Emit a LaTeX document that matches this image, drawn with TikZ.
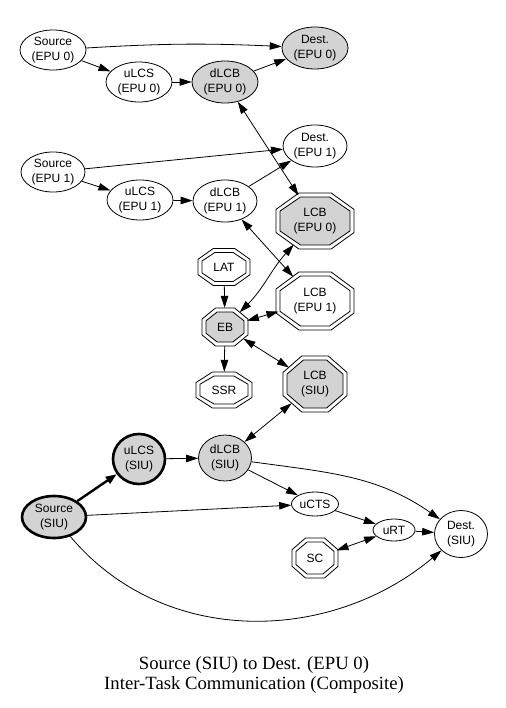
\documentclass[tikz,border=0pt]{standalone}
\usepackage{fontspec}
\setmainfont{Liberation Sans}
\newfontfamily\capfont{Liberation Serif}
\usetikzlibrary{shapes.geometric,arrows.meta}
\definecolor{gfill}{RGB}{211,211,211}
\newcommand\nodefont{\fontsize{12}{14.5}\selectfont}
\newcommand\drawoct[5]{\draw[#1] ({#2+#4},{#3+0.414*#5}) -- ({#2+0.414*#4},{#3+#5}) -- ({#2-0.414*#4},{#3+#5}) -- ({#2-#4},{#3+0.414*#5}) -- ({#2-#4},{#3-0.414*#5}) -- ({#2-0.414*#4},{#3-#5}) -- ({#2+0.414*#4},{#3-#5}) -- ({#2+#4},{#3-0.414*#5}) -- cycle;}
\newcommand\myocto[7]{%
  \pgfmathsetmacro\myoA{#4/2}\pgfmathsetmacro\myoB{#5/2}%
  \pgfmathsetmacro\myiA{#4/2-4}\pgfmathsetmacro\myiB{#5/2-4}%
  \drawoct{fill=white,lnk}{#2}{#3}{\myoA}{\myoB}%
  \drawoct{fill=#6,lnk}{#2}{#3}{\myiA}{\myiB}%
  \node[ellipse,minimum width=#4,minimum height=#5,inner sep=0,font=\nodefont,align=center] (#1) at (#2,#3) {#7};}
\tikzset{
  lnk/.style={line width=0.8pt},
  el/.style={ellipse,draw,line width=0.8pt,inner sep=0pt,align=center,font=\nodefont},
  gel/.style={el,fill=gfill},
  thk/.style={line width=2.6pt},
  arr/.style={lnk,-{Triangle[length=12pt,width=7.5pt]}},
  barr/.style={lnk,{Triangle[length=12pt,width=7.5pt]}-{Triangle[length=12pt,width=7.5pt]}},
}
\begin{document}
\begin{tikzpicture}[x=1pt,y=1pt]
\useasboundingbox (0,0) rectangle (505,-708);
\fill[white] (0,0) rectangle (505,-708);
% ellipse nodes
\node[el, minimum width=66, minimum height=40] (SrcE0) at (53,-50) {Source\\(EPU 0)};
\node[el, minimum width=66, minimum height=40] (uLCSE0) at (139,-82) {uLCS\\(EPU 0)};
\node[gel, minimum width=66, minimum height=42] (dLCBE0) at (225,-82) {dLCB\\(EPU 0)};
\node[gel, minimum width=66, minimum height=42] (DestE0) at (315,-48) {Dest.\\(EPU 0)};
\node[el, minimum width=64, minimum height=40] (SrcE1) at (53,-172) {Source\\(EPU 1)};
\node[el, minimum width=66, minimum height=40] (uLCSE1) at (140,-200) {uLCS\\(EPU 1)};
\node[el, minimum width=64, minimum height=42] (dLCBE1) at (225,-201) {dLCB\\(EPU 1)};
\node[el, minimum width=64, minimum height=42] (DestE1) at (315,-146) {Dest.\\(EPU 1)};
% octagon nodes
\myocto{LCBE0}{315}{-221}{78}{56}{gfill}{LCB\\(EPU 0)}
\myocto{LAT}{224}{-267}{52}{37}{white}{LAT}
\myocto{LCBE1}{315}{-301}{78}{58}{white}{LCB\\(EPU 1)}
\myocto{EB}{225}{-327}{46}{38}{gfill}{EB}
\myocto{SSR}{224}{-390}{56}{36}{white}{SSR}
\myocto{LCBSIU}{315}{-384}{64}{56}{gfill}{LCB\\(SIU)}
\myocto{SC}{315}{-558}{46}{40}{white}{SC}
% SIU nodes
\node[gel, thk, minimum width=52, minimum height=50] (uLCSSIU) at (139,-459) {uLCS\\(SIU)};
\node[gel, minimum width=53, minimum height=46] (dLCBSIU) at (225,-458) {dLCB\\(SIU)};
\node[gel, thk, minimum width=64, minimum height=42] (SrcSIU) at (54,-517) {Source\\(SIU)};
\node[el, minimum width=47, minimum height=24] (uCTS) at (315,-504) {uCTS};
\node[el, minimum width=42, minimum height=22] (uRT) at (394,-530) {uRT};
\node[el, minimum width=53, minimum height=47] (DestSIU) at (461,-534) {Dest.\\(SIU)};
% caption
\node[font=\capfont\fontsize{18.7}{20.5}\selectfont, align=center] (cap) at (254,-675) {Source (SIU) to Dest. (EPU 0)\\Inter-Task Communication (Composite)};
% edges EPU 0
\draw[arr] (SrcE0) to[bend left=3] (DestE0);
\draw[arr] (SrcE0) -- (uLCSE0);
\draw[arr] (uLCSE0) -- (dLCBE0);
\draw[arr] (dLCBE0) -- (DestE0);
\draw[barr] (dLCBE0) -- (LCBE0);
% edges EPU 1
\draw[arr] (SrcE1) -- (DestE1);
\draw[arr] (SrcE1) -- (uLCSE1);
\draw[arr] (uLCSE1) -- (dLCBE1);
\draw[arr] (dLCBE1) -- (DestE1);
\draw[barr] (dLCBE1) -- (LCBE1);
% EB
\draw[arr] (LAT) -- (EB);
\draw[barr] (EB) to[out=45,in=228] (LCBE0);
\draw[barr] (EB) -- (LCBE1);
\draw[arr] (EB) -- (SSR);
\draw[barr] (EB) -- (LCBSIU);
\draw[barr] (LCBSIU) -- (dLCBSIU);
% SIU
\draw[arr, line width=2.4pt, -{Triangle[length=11pt,width=8pt]}] (SrcSIU) -- (uLCSSIU);
\draw[arr] (uLCSSIU) -- (dLCBSIU);
\draw[arr] (dLCBSIU) -- (uCTS);
\draw[arr] (dLCBSIU) to[out=-8,in=145] (DestSIU);
\draw[arr] (SrcSIU) -- (uCTS);
\draw[arr] (SrcSIU) to[out=-50,in=-140] (DestSIU);
\draw[arr] (uCTS) -- (uRT);
\draw[arr] (uRT) -- (DestSIU);
\draw[barr] (SC) -- (uRT);
\end{tikzpicture}
\end{document}
